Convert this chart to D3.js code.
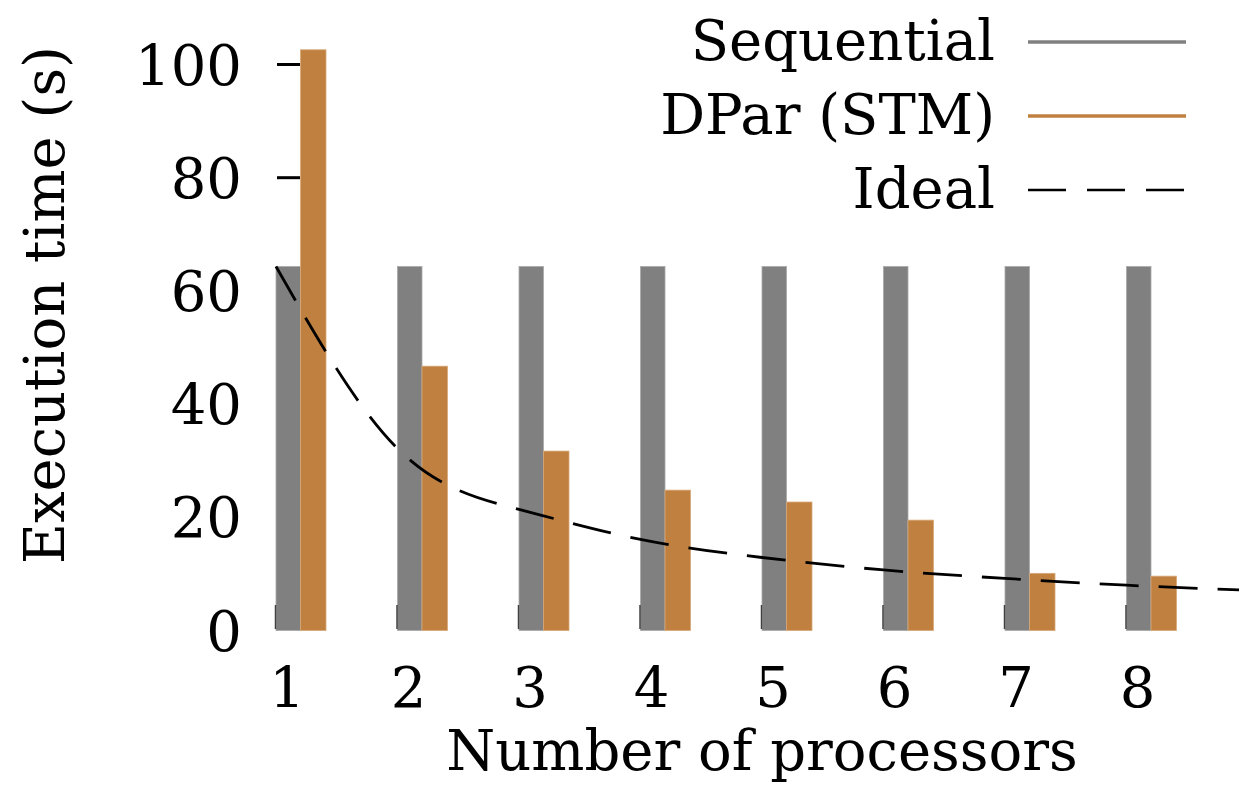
<!DOCTYPE html>
<html>
<head>
<meta charset="utf-8">
<style>
  body { margin: 0; background: #fff; }
  text { font-family: "DejaVu Serif", serif; fill: #000; }
</style>
</head>
<body>
<svg id="chart"></svg>
<script src="https://cdn.jsdelivr.net/npm/d3@7/dist/d3.min.js"></script>
<script>
  // data
  var processors = [1, 2, 3, 4, 5, 6, 7, 8];
  var sequential = [64.3, 64.3, 64.3, 64.3, 64.3, 64.3, 64.3, 64.3];
  var dpar = [102.6, 46.7, 31.7, 24.8, 22.7, 19.5, 10.1, 9.6];
  var idealN = [1, 2, 3, 4, 5, 6, 7, 8, 9];
  var ideal = [64.3, 32.15, 21.4, 16.1, 12.9, 10.7, 9.2, 8.0, 7.1];
  var yTicks = [0, 20, 40, 60, 80, 100];
  var legendNames = ['Sequential', 'DPar (STM)', 'Ideal'];

  var width = 1239, height = 786;
  var grey = '#808080', orange = '#c08040';
  var fs = 56;
  var barW = 24.5;

  var svg = d3.select('#chart').attr('width', width).attr('height', height);

  var x = d3.scaleLinear().domain([1, 8]).range([276, 1126.5]);
  var y = d3.scaleLinear().domain([0, 100]).range([630.5, 64.5]);

  // y ticks (under the bars, the 0 one is hidden by them)
  svg.append('g').selectAll('line').data(yTicks.filter(function(d){ return d > 0; }))
    .enter().append('line')
    .attr('x1', 277).attr('x2', 300)
    .attr('y1', function(d){ return y(d); }).attr('y2', function(d){ return y(d); })
    .attr('stroke', '#000').attr('stroke-width', 3);

  svg.append('g').selectAll('text').data(yTicks).enter().append('text')
    .attr('x', 242).attr('y', function(d){ return y(d); })
    .attr('dy', '0.36em')
    .attr('text-anchor', 'end')
    .style('font-size', fs + 'px')
    .text(function(d){ return d; });

  // bars
  svg.append('g').selectAll('rect').data(processors).enter().append('rect')
    .attr('x', function(d){ return x(d); })
    .attr('y', function(d, i){ return y(sequential[i]); })
    .attr('width', barW)
    .attr('height', function(d, i){ return y(0) - y(sequential[i]); })
    .attr('fill', grey).attr('stroke', '#a8a8a8').attr('stroke-width', 0.8);

  svg.append('g').selectAll('rect').data(processors).enter().append('rect')
    .attr('x', function(d){ return x(d) + barW; })
    .attr('y', function(d, i){ return y(dpar[i]); })
    .attr('width', barW + 1)
    .attr('height', function(d, i){ return y(0) - y(dpar[i]); })
    .attr('fill', orange).attr('stroke', '#d8a878').attr('stroke-width', 0.8);

  // x ticks
  svg.append('g').selectAll('line').data(processors).enter().append('line')
    .attr('x1', function(d){ return x(d) - 0.5; }).attr('x2', function(d){ return x(d) - 0.5; })
    .attr('y1', 605).attr('y2', 629)
    .attr('stroke', '#404040').attr('stroke-width', 1.5);

  svg.append('g').selectAll('text').data(processors).enter().append('text')
    .attr('x', function(d){ return x(d) + 11; })
    .attr('y', 707)
    .attr('text-anchor', 'middle')
    .style('font-size', fs + 'px')
    .text(function(d){ return d; });

  // ideal curve
  var line = d3.line().curve(d3.curveNatural)
    .x(function(d, i){ return x(idealN[i]); })
    .y(function(d){ return y(d); });
  svg.append('clipPath').attr('id', 'clip').append('rect')
    .attr('x', 0).attr('y', 0).attr('width', width).attr('height', height);
  svg.append('path').datum(ideal)
    .attr('clip-path', 'url(#clip)')
    .attr('d', line)
    .attr('fill', 'none').attr('stroke', '#000').attr('stroke-width', 2.8)
    .attr('stroke-dasharray', '39,20');

  // axis titles
  svg.append('text')
    .attr('x', 762).attr('y', 770)
    .attr('text-anchor', 'middle')
    .style('font-size', fs + 'px')
    .text('Number of processors');

  svg.append('text')
    .attr('transform', 'translate(64,305) rotate(-90)')
    .attr('text-anchor', 'middle')
    .style('font-size', fs + 'px')
    .text('Execution time (s)');

  // legend
  var legend = svg.append('g').selectAll('g').data(legendNames).enter().append('g')
    .attr('transform', function(d, i){ return 'translate(0,' + (42 + i * 74) + ')'; });
  legend.append('text')
    .attr('x', 995).attr('y', 18)
    .attr('text-anchor', 'end')
    .style('font-size', fs + 'px')
    .text(function(d){ return d; });
  legend.append('line')
    .attr('x1', 1028).attr('x2', 1186)
    .attr('stroke', function(d, i){ return [grey, orange, '#000'][i]; })
    .attr('stroke-width', function(d, i){ return i == 2 ? 2.6 : 3.5; })
    .attr('stroke-dasharray', function(d, i){ return i == 2 ? '38,21' : null; });
</script>
</body>
</html>
